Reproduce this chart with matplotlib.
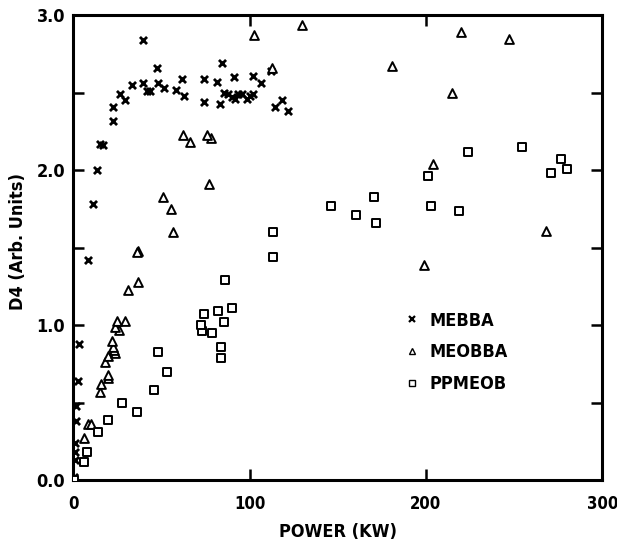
import matplotlib
matplotlib.use("Agg")
import matplotlib.pyplot as plt
from matplotlib import font_manager
from matplotlib.lines import Line2D
from matplotlib.ticker import MultipleLocator

# look for a narrow / condensed bold face, otherwise fall back to Liberation Sans
cands = [f for f in font_manager.fontManager.ttflist
         if 'Narrow' in f.name or 'Condensed' in f.name
         or str(f.stretch) in ('condensed', 'semi-condensed', 'extra-condensed')]
cands.sort(key=lambda f: (str(f.weight) not in ('bold', '700'), f.name != 'Liberation Sans Narrow'))
if cands:
    plt.rcParams['font.family'] = [cands[0].name, 'DejaVu Sans']
    plt.rcParams['font.stretch'] = cands[0].stretch
else:
    plt.rcParams['font.family'] = ['Liberation Sans', 'DejaVu Sans']
fs = 13
plt.rcParams['font.weight'] = 'bold'

# MEBBA (x markers)
mebba_x = [0.5, 1, 1, 1, 1.5, 1.5, 2.5, 3.3, 8, 11, 13.5, 15, 17, 22.5, 22.5, 26.5,
           29.5, 33.5, 39.5, 39.3, 42, 43.5, 47.2, 48, 51.5, 58, 61.4, 62.7, 74.2,
           74.1, 81.6, 83.1, 84.5, 85.6, 87.9, 89.8, 91.1, 91.7, 93.5, 95.5, 98.3,
           100.2, 101.7, 101.7, 106.4, 112.1, 114.4, 118.2, 121.9]
mebba_y = [0.02, 0.13, 0.18, 0.24, 0.38, 0.48, 0.64, 0.88, 1.42, 1.78, 2.00, 2.17,
           2.16, 2.41, 2.32, 2.49, 2.45, 2.55, 2.56, 2.84, 2.51, 2.51, 2.66, 2.56,
           2.53, 2.52, 2.59, 2.48, 2.59, 2.44, 2.57, 2.43, 2.69, 2.50, 2.49, 2.47,
           2.60, 2.46, 2.49, 2.49, 2.46, 2.48, 2.49, 2.61, 2.56, 2.64, 2.41, 2.45,
           2.38]

# MEOBBA (triangles)
meobba_x = [0.3, 6.1, 8.1, 9.9, 15.0, 15.6, 19.8, 19.4, 17.9, 19.8, 23.5, 23.0, 22.6,
            21.7, 26.0, 23.5, 24.9, 29.2, 31.1, 36.4, 36.8, 35.9, 56.3, 55.2, 50.6,
            76.9, 78.0, 75.9, 66.1, 62.3, 102.5, 112.9, 129.5, 180.9, 198.9, 204.2,
            214.6, 219.9, 247.3, 268.0]
meobba_y = [0.0, 0.27, 0.36, 0.36, 0.57, 0.62, 0.66, 0.68, 0.76, 0.80, 0.82, 0.84,
            0.86, 0.90, 0.97, 0.99, 1.03, 1.03, 1.23, 1.28, 1.48, 1.47, 1.60, 1.75,
            1.83, 1.91, 2.21, 2.23, 2.18, 2.23, 2.87, 2.66, 2.94, 2.67, 1.39, 2.04,
            2.50, 2.89, 2.85, 1.61]

# PPMEOB (squares)
ppmeob_x = [0.3, 6.0, 7.8, 14.1, 19.8, 27.3, 35.9, 45.9, 52.9, 48.1, 83.5, 83.7,
            85.4, 78.8, 72.7, 72.2, 90.1, 82.2, 74.2, 86.0, 113.4, 113.4, 146.1,
            160.2, 170.5, 171.5, 201.4, 202.9, 219.0, 224.1, 254.4, 271.0, 276.7,
            279.9]
ppmeob_y = [0.0, 0.12, 0.18, 0.31, 0.39, 0.50, 0.44, 0.58, 0.70, 0.83, 0.79, 0.86,
            1.02, 0.95, 0.96, 1.00, 1.11, 1.09, 1.07, 1.29, 1.44, 1.60, 1.77, 1.71,
            1.83, 1.66, 1.96, 1.77, 1.74, 2.12, 2.15, 1.98, 2.07, 2.01]

series_names = ['MEBBA', 'MEOBBA', 'PPMEOB']

fig = plt.figure(figsize=(6.17, 5.45), dpi=100)
ax = fig.add_axes([0.119, 0.119, 0.857, 0.853])

ax.scatter(mebba_x, mebba_y, marker='x', s=26, c='black', linewidths=2.0, zorder=3)
ax.scatter(meobba_x, meobba_y, marker='^', s=40, facecolors='white',
           edgecolors='black', linewidths=1.4, zorder=3)
ax.scatter(ppmeob_x, ppmeob_y, marker='s', s=36, facecolors='white',
           edgecolors='black', linewidths=1.4, zorder=3)

ax.set_xlim(0, 300)
ax.set_ylim(0, 3.0)
ax.xaxis.set_major_locator(MultipleLocator(100))
ax.yaxis.set_minor_locator(MultipleLocator(0.5))
ax.set_yticks([0, 1, 2, 3])
ax.set_yticklabels(['0.0', '1.0', '2.0', '3.0'])

for s in ax.spines.values():
    s.set_linewidth(2.2)
ax.tick_params(axis='both', which='both', direction='in', top=True, right=True,
               width=1.8, labelsize=fs)
ax.tick_params(axis='x', labelsize=12)
ax.tick_params(axis='both', which='major', length=8)
ax.tick_params(axis='y', which='minor', length=8)
ax.tick_params(axis='x', which='major', pad=11)
ax.tick_params(axis='y', which='major', pad=6)

ax.set_xlabel('POWER (KW)', fontsize=fs, fontweight='bold', labelpad=7)
ax.set_ylabel('D4 (Arb. Units)', fontsize=fs, fontweight='bold')
ax.yaxis.set_label_coords(-0.088, 0.514)

handles = [
    Line2D([], [], linestyle='none', marker='x', markersize=4, markeredgewidth=1.6, color='black'),
    Line2D([], [], linestyle='none', marker='^', markersize=4, markerfacecolor='white',
           markeredgecolor='black', markeredgewidth=1.0),
    Line2D([], [], linestyle='none', marker='s', markersize=4, markerfacecolor='white',
           markeredgecolor='black', markeredgewidth=1.0),
]
ax.legend(handles, series_names, loc='center left', bbox_to_anchor=(0.592, 0.275),
          frameon=False, handlelength=1.0, handletextpad=0.5, labelspacing=0.75,
          prop={'size': fs, 'weight': 'bold'})

fig.savefig('out.png', dpi=100)
